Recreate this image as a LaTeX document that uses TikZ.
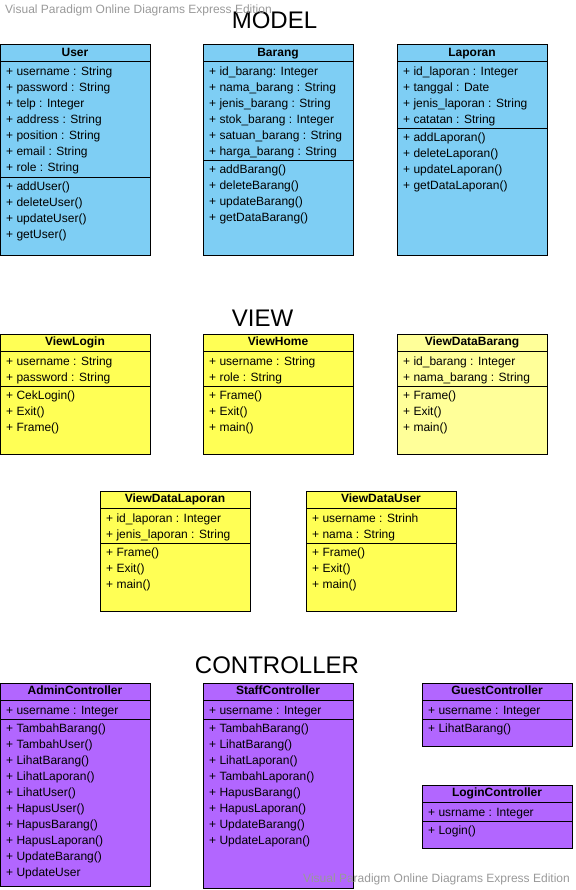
\documentclass[tikz,border=0pt]{standalone}
\usepackage{fontspec}
\setmainfont{Liberation Sans}
\definecolor{modelblue}{HTML}{7ECEF4}
\definecolor{viewyellow}{HTML}{FFFF55}
\definecolor{paleyellow}{HTML}{FFFF99}
\definecolor{ctrlpurple}{HTML}{B266FF}
\definecolor{markgray}{HTML}{999999}
\newcommand{\umlclass}[9]{%
  \node[classbox, fill=#2, minimum height={(#6-#4)*1pt}] (#1) at (#3,#4) {};
  \node[classhead, fill=#2] (#1-head) at (#1.north) {#7};
  \node[classpart, fill=#2, minimum height={(#5-#4-17)*1pt}] (#1-attrs) at (#1-head.south) {};
  \foreach \m [count=\i] in {#8}
    \node[member] (#1-a\i) at (#3+6, #4+31+16*\i-16) {+ \m};
  \foreach \m [count=\i] in {#9}
    \node[member] (#1-m\i) at (#3+6, #5+13+16*\i-16) {+ \m};
}
\begin{document}
\begin{tikzpicture}[x=1pt, y=-1pt,
    classbox/.style={draw, line width=1pt, anchor=north west, minimum width=150pt, inner sep=0, outer sep=0},
    classhead/.style={draw, line width=1pt, anchor=north, minimum width=150pt, minimum height=17pt,
      inner sep=0, outer sep=0, text height=8.5pt, text depth=2.5pt, font=\bfseries\fontsize{12}{14}\selectfont},
    classpart/.style={draw, line width=1pt, anchor=north, minimum width=150pt, inner sep=0, outer sep=0},
    member/.style={anchor=base west, inner sep=0, font=\fontsize{12}{14}\selectfont},
    title/.style={inner sep=0, font=\fontsize{24}{28}\selectfont},
    watermark/.style={inner sep=0, text=markgray, font=\fontsize{12}{14}\selectfont}]
      \useasboundingbox (0,0) rectangle (575,890);
      \node[title] (model) at (274.5,20) {MODEL};
      \node[title] (view) at (262.5,318) {VIEW};
      \node[title] (controller) at (277,665) {CONTROLLER};
      \umlclass{user}{modelblue}{0}{45}{178}{256}{User}
        {username : String, password : String, telp : Integer, address : String,
         position : String, email : String, role : String}
        {addUser(), deleteUser(), updateUser(), getUser()}
      \umlclass{barang}{modelblue}{203}{45}{161}{256}{Barang}
        {id\_barang: Integer, nama\_barang : String, jenis\_barang : String,
         stok\_barang : Integer, satuan\_barang : String, harga\_barang : String}
        {addBarang(), deleteBarang(), updateBarang(), getDataBarang()}
      \umlclass{laporan}{modelblue}{397}{45}{129}{256}{Laporan}
        {id\_laporan : Integer, tanggal : Date, jenis\_laporan : String, catatan : String}
        {addLaporan(), deleteLaporan(), updateLaporan(), getDataLaporan()}
      \umlclass{viewlogin}{viewyellow}{0}{334}{386}{454}{ViewLogin}
        {username : String, password : String}
        {CekLogin(), Exit(), Frame()}
      \umlclass{viewhome}{viewyellow}{203}{334}{386}{454}{ViewHome}
        {username : String, role : String}
        {Frame(), Exit(), main()}
      \umlclass{viewbarang}{paleyellow}{397}{334}{386}{454}{ViewDataBarang}
        {id\_barang : Integer, nama\_barang : String}
        {Frame(), Exit(), main()}
      \umlclass{viewlaporan}{viewyellow}{100}{491}{543}{611}{ViewDataLaporan}
        {id\_laporan : Integer, jenis\_laporan : String}
        {Frame(), Exit(), main()}
      \umlclass{viewuser}{viewyellow}{306}{491}{543}{611}{ViewDataUser}
        {username : Strinh, nama : String}
        {Frame(), Exit(), main()}
      \umlclass{admin}{ctrlpurple}{0}{683}{719}{886}{AdminController}
        {username : Integer}
        {TambahBarang(), TambahUser(), LihatBarang(), LihatLaporan(), LihatUser(),
         HapusUser(), HapusBarang(), HapusLaporan(), UpdateBarang(), UpdateUser}
      \umlclass{staff}{ctrlpurple}{203}{683}{719}{888}{StaffController}
        {username : Integer}
        {TambahBarang(), LihatBarang(), LihatLaporan(), TambahLaporan(),
         HapusBarang(), HapusLaporan(), UpdateBarang(), UpdateLaporan()}
      \umlclass{guest}{ctrlpurple}{422}{683}{719}{746}{GuestController}
        {username : Integer}
        {LihatBarang()}
      \umlclass{login}{ctrlpurple}{422}{785}{821}{848}{LoginController}
        {usrname : Integer}
        {Login()}
      \node[watermark, anchor=west] (marktop) at (5,10) {Visual Paradigm Online Diagrams Express Edition};
      \node[watermark, anchor=east] (markbottom) at (570,879) {Visual Paradigm Online Diagrams Express Edition};
    \end{tikzpicture}
\end{document}
